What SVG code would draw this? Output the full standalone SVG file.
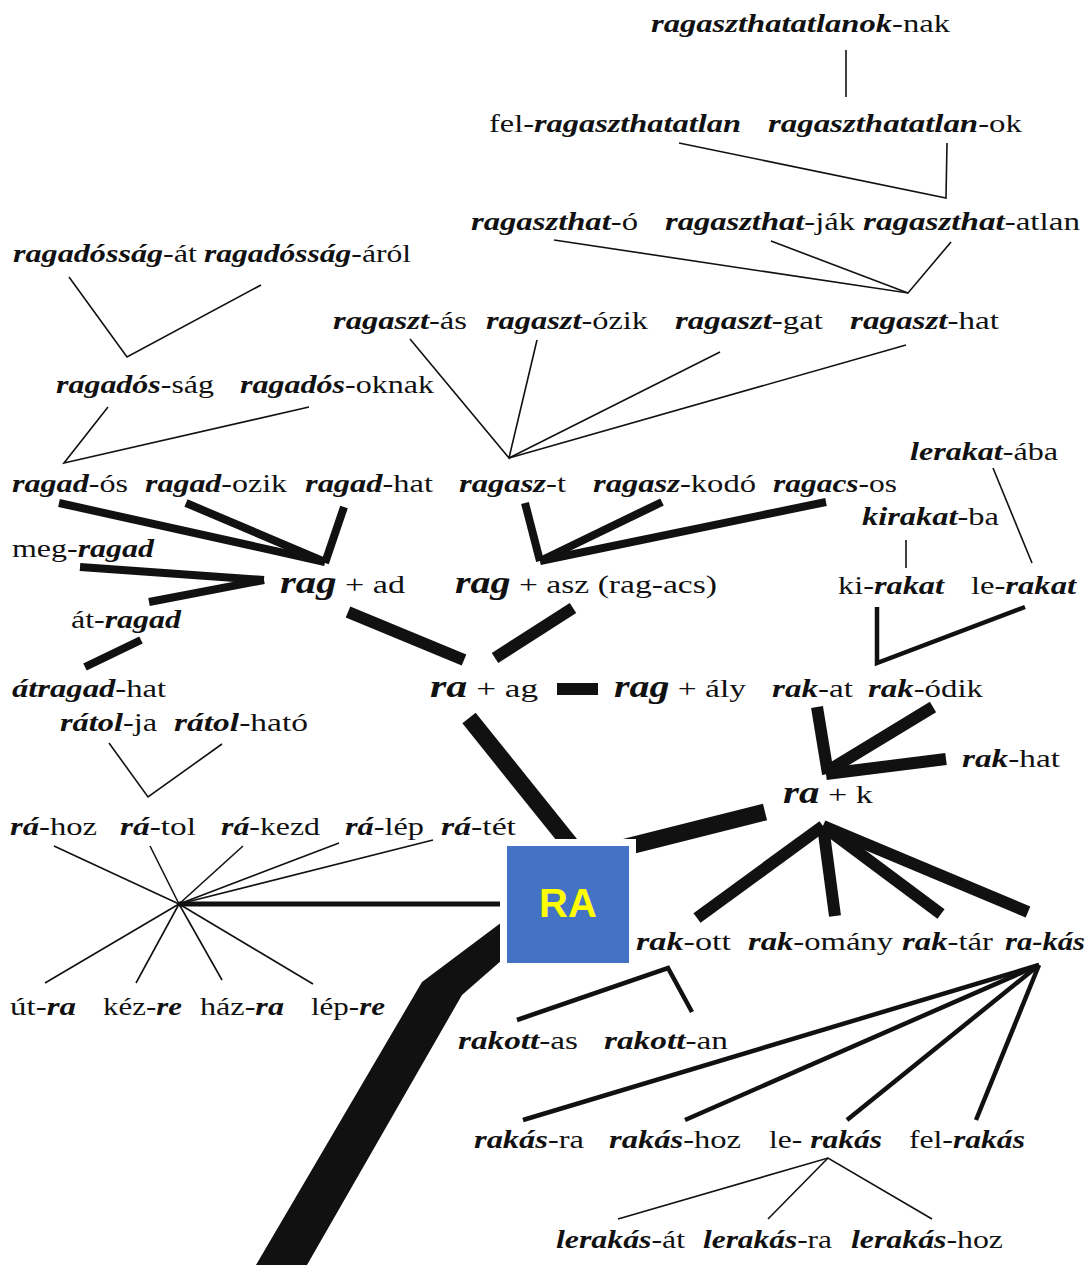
<svg xmlns="http://www.w3.org/2000/svg" width="1087" height="1265" viewBox="0 0 1087 1265">
<style>
text{font-family:"Liberation Serif","DejaVu Serif",serif;font-size:26px;fill:#111}
.b{font-weight:bold;font-style:italic}
.big{font-size:31px}
.thin{stroke:#111;stroke-width:1.6;fill:none}
.med{stroke:#111;stroke-width:4.5;fill:none}
.thk{stroke:#111;stroke-width:8;fill:none}
.xthk{stroke:#111;stroke-width:12;fill:none}
.huge{stroke:#111;stroke-width:17;fill:none}
</style>
<rect width="1087" height="1265" fill="#fff"/>
<g id="connectors">
<line class="thin" x1="846" y1="50" x2="846" y2="97"/>
<polyline class="thin" points="679,143 946,198 947,143"/>
<polyline class="thin" points="554,240 908,293 951,242"/>
<line class="thin" x1="771" y1="241" x2="908" y2="293"/>
<polyline class="thin" points="69,277 127,357 261,285"/>
<polyline class="thin" points="410,339 509,458 537,340"/>
<line class="thin" x1="509" y1="458" x2="720" y2="352"/>
<line class="thin" x1="509" y1="458" x2="906" y2="345"/>
<polyline class="thin" points="108,407 64,463 309,407"/>
<line class="thin" x1="993" y1="468" x2="1032" y2="563"/>
<line class="thin" x1="906" y1="540" x2="906" y2="568"/>
<polyline class="med" points="877,607 877,663 1025,607"/>
<line class="thk" x1="59" y1="503" x2="325" y2="562"/>
<line class="thk" x1="186" y1="503" x2="325" y2="562"/>
<line class="thk" x1="344" y1="507" x2="325" y2="563"/>
<line class="thk" x1="80" y1="567" x2="264" y2="580"/>
<line class="thk" x1="149" y1="602" x2="264" y2="580"/>
<line class="thk" x1="85" y1="667" x2="141" y2="640"/>
<line class="xthk" x1="348" y1="612" x2="464" y2="660"/>
<line class="xthk" x1="495" y1="658" x2="573" y2="608"/>
<line class="thk" x1="525" y1="503" x2="540" y2="561"/>
<line class="thk" x1="662" y1="502" x2="540" y2="561"/>
<line class="thk" x1="826" y1="502" x2="540" y2="561"/>
<rect x="557" y="683" width="41" height="12" fill="#111"/>
<polyline class="thin" points="109,743 148,797 222,744"/>
<line class="thin" x1="54" y1="846" x2="179" y2="904"/>
<line class="thin" x1="150" y1="846" x2="179" y2="904"/>
<line class="thin" x1="243" y1="846" x2="179" y2="904"/>
<line class="thin" x1="339" y1="843" x2="179" y2="904"/>
<line class="thin" x1="433" y1="840" x2="179" y2="904"/>
<line class="thin" x1="45" y1="983" x2="179" y2="904"/>
<line class="thin" x1="136" y1="983" x2="179" y2="904"/>
<line class="thin" x1="222" y1="980" x2="179" y2="904"/>
<line class="thin" x1="313" y1="984" x2="179" y2="904"/>
<line stroke="#111" stroke-width="5" x1="179" y1="904" x2="502" y2="904"/>
<line class="huge" x1="469" y1="718" x2="575" y2="850"/>
<line class="huge" x1="610" y1="851" x2="765" y2="812"/>
<polygon fill="#111" points="256,1265 422,982 502,922 502,960 462,995 307,1265"/>
<line class="xthk" x1="817" y1="707" x2="828" y2="774"/>
<line class="xthk" x1="933" y1="707" x2="826" y2="772"/>
<line class="xthk" x1="946" y1="759" x2="826" y2="774"/>
<line class="xthk" x1="697" y1="918" x2="823" y2="826"/>
<line class="xthk" x1="835" y1="916" x2="823" y2="826"/>
<line class="xthk" x1="941" y1="914" x2="823" y2="826"/>
<line class="xthk" x1="1028" y1="912" x2="823" y2="826"/>
<polyline class="med" points="517,1020 668,968 692,1012"/>
<line class="med" x1="523" y1="1120" x2="1039" y2="965"/>
<line class="med" x1="685" y1="1120" x2="1039" y2="965"/>
<line class="med" x1="847" y1="1120" x2="1039" y2="965"/>
<line class="med" x1="976" y1="1120" x2="1039" y2="965"/>
<polyline class="thin" points="618,1219 828,1158 932,1219"/>
<line class="thin" x1="768" y1="1219" x2="828" y2="1158"/>
</g>
<g id="n1"><text x="651" y="32" textLength="299" lengthAdjust="spacingAndGlyphs"><tspan class="b">ragaszthatatlanok</tspan>-nak</text></g>
<g id="n2"><text x="489" y="132" textLength="252" lengthAdjust="spacingAndGlyphs">fel-<tspan class="b">ragaszthatatlan</tspan></text></g>
<g id="n3"><text x="768" y="132" textLength="254" lengthAdjust="spacingAndGlyphs"><tspan class="b">ragaszthatatlan</tspan>-ok</text></g>
<g id="n4"><text x="471" y="230" textLength="167" lengthAdjust="spacingAndGlyphs"><tspan class="b">ragaszthat</tspan>-ó</text></g>
<g id="n5"><text x="665" y="230" textLength="190" lengthAdjust="spacingAndGlyphs"><tspan class="b">ragaszthat</tspan>-ják</text></g>
<g id="n6"><text x="863" y="230" textLength="217" lengthAdjust="spacingAndGlyphs"><tspan class="b">ragaszthat</tspan>-atlan</text></g>
<g id="n7"><text x="13" y="262" textLength="184" lengthAdjust="spacingAndGlyphs"><tspan class="b">ragadósság</tspan>-át</text></g>
<g id="n8"><text x="204" y="262" textLength="207" lengthAdjust="spacingAndGlyphs"><tspan class="b">ragadósság</tspan>-áról</text></g>
<g id="n9"><text x="333" y="329" textLength="134" lengthAdjust="spacingAndGlyphs"><tspan class="b">ragaszt</tspan>-ás</text></g>
<g id="n10"><text x="486" y="329" textLength="162" lengthAdjust="spacingAndGlyphs"><tspan class="b">ragaszt</tspan>-ózik</text></g>
<g id="n11"><text x="675" y="329" textLength="148" lengthAdjust="spacingAndGlyphs"><tspan class="b">ragaszt</tspan>-gat</text></g>
<g id="n12"><text x="850" y="329" textLength="149" lengthAdjust="spacingAndGlyphs"><tspan class="b">ragaszt</tspan>-hat</text></g>
<g id="n13"><text x="56" y="393" textLength="158" lengthAdjust="spacingAndGlyphs"><tspan class="b">ragadós</tspan>-ság</text></g>
<g id="n14"><text x="240" y="393" textLength="194" lengthAdjust="spacingAndGlyphs"><tspan class="b">ragadós</tspan>-oknak</text></g>
<g id="n15"><text x="910" y="460" textLength="148" lengthAdjust="spacingAndGlyphs"><tspan class="b">lerakat</tspan>-ába</text></g>
<g id="n16"><text x="12" y="492" textLength="116" lengthAdjust="spacingAndGlyphs"><tspan class="b">ragad</tspan>-ós</text></g>
<g id="n17"><text x="145" y="492" textLength="142" lengthAdjust="spacingAndGlyphs"><tspan class="b">ragad</tspan>-ozik</text></g>
<g id="n18"><text x="305" y="492" textLength="128" lengthAdjust="spacingAndGlyphs"><tspan class="b">ragad</tspan>-hat</text></g>
<g id="n19"><text x="459" y="492" textLength="107" lengthAdjust="spacingAndGlyphs"><tspan class="b">ragasz</tspan>-t</text></g>
<g id="n20"><text x="593" y="492" textLength="163" lengthAdjust="spacingAndGlyphs"><tspan class="b">ragasz</tspan>-kodó</text></g>
<g id="n21"><text x="773" y="492" textLength="124" lengthAdjust="spacingAndGlyphs"><tspan class="b">ragacs</tspan>-os</text></g>
<g id="n22"><text x="862" y="525" textLength="137" lengthAdjust="spacingAndGlyphs"><tspan class="b">kirakat</tspan>-ba</text></g>
<g id="n23"><text x="12" y="557" textLength="142" lengthAdjust="spacingAndGlyphs">meg-<tspan class="b">ragad</tspan></text></g>
<g id="n24"><text x="280" y="593" textLength="125" lengthAdjust="spacingAndGlyphs"><tspan class="b big">rag</tspan> + ad</text></g>
<g id="n25"><text x="455" y="593" textLength="262" lengthAdjust="spacingAndGlyphs"><tspan class="b big">rag</tspan> + asz (rag-acs)</text></g>
<g id="n26"><text x="838" y="594" textLength="106" lengthAdjust="spacingAndGlyphs">ki-<tspan class="b">rakat</tspan></text></g>
<g id="n27"><text x="971" y="594" textLength="105" lengthAdjust="spacingAndGlyphs">le-<tspan class="b">rakat</tspan></text></g>
<g id="n28"><text x="71" y="628" textLength="110" lengthAdjust="spacingAndGlyphs">át-<tspan class="b">ragad</tspan></text></g>
<g id="n29"><text x="12" y="697" textLength="154" lengthAdjust="spacingAndGlyphs"><tspan class="b">átragad</tspan>-hat</text></g>
<g id="n30"><text x="430" y="697" textLength="108" lengthAdjust="spacingAndGlyphs"><tspan class="b big">ra</tspan> + ag</text></g>
<g id="n31"><text x="614" y="697" textLength="132" lengthAdjust="spacingAndGlyphs"><tspan class="b big">rag</tspan> + ály</text></g>
<g id="n32"><text x="772" y="697" textLength="81" lengthAdjust="spacingAndGlyphs"><tspan class="b">rak</tspan>-at</text></g>
<g id="n33"><text x="868" y="697" textLength="115" lengthAdjust="spacingAndGlyphs"><tspan class="b">rak</tspan>-ódik</text></g>
<g id="n34"><text x="60" y="731" textLength="97" lengthAdjust="spacingAndGlyphs"><tspan class="b">rátol</tspan>-ja</text></g>
<g id="n35"><text x="174" y="731" textLength="134" lengthAdjust="spacingAndGlyphs"><tspan class="b">rátol</tspan>-ható</text></g>
<g id="n36"><text x="962" y="767" textLength="98" lengthAdjust="spacingAndGlyphs"><tspan class="b">rak</tspan>-hat</text></g>
<g id="n37"><text x="783" y="803" textLength="90" lengthAdjust="spacingAndGlyphs"><tspan class="b big">ra</tspan> + k</text></g>
<g id="n38"><text x="10" y="835" textLength="87" lengthAdjust="spacingAndGlyphs"><tspan class="b">rá</tspan>-hoz</text></g>
<g id="n39"><text x="120" y="835" textLength="76" lengthAdjust="spacingAndGlyphs"><tspan class="b">rá</tspan>-tol</text></g>
<g id="n40"><text x="221" y="835" textLength="99" lengthAdjust="spacingAndGlyphs"><tspan class="b">rá</tspan>-kezd</text></g>
<g id="n41"><text x="345" y="835" textLength="79" lengthAdjust="spacingAndGlyphs"><tspan class="b">rá</tspan>-lép</text></g>
<g id="n42"><text x="441" y="835" textLength="75" lengthAdjust="spacingAndGlyphs"><tspan class="b">rá</tspan>-tét</text></g>
<g id="RA">
<rect x="500" y="839" width="136" height="130" fill="#fff"/>
<rect x="507" y="846" width="122" height="117" fill="#4472C4"/>
<text x="568" y="917" text-anchor="middle" style="font-family:'Liberation Sans',Arial,sans-serif;font-weight:bold;font-size:40px;fill:#FFFF00">RA</text>
</g>
<g id="n43"><text x="636" y="950" textLength="95" lengthAdjust="spacingAndGlyphs"><tspan class="b">rak</tspan>-ott</text></g>
<g id="n44"><text x="748" y="950" textLength="145" lengthAdjust="spacingAndGlyphs"><tspan class="b">rak</tspan>-omány</text></g>
<g id="n45"><text x="902" y="950" textLength="91" lengthAdjust="spacingAndGlyphs"><tspan class="b">rak</tspan>-tár</text></g>
<g id="n46"><text x="1005" y="950" textLength="80" lengthAdjust="spacingAndGlyphs"><tspan class="b">ra-kás</tspan></text></g>
<g id="n47"><text x="10" y="1015" textLength="66" lengthAdjust="spacingAndGlyphs">út-<tspan class="b">ra</tspan></text></g>
<g id="n48"><text x="103" y="1015" textLength="79" lengthAdjust="spacingAndGlyphs">kéz-<tspan class="b">re</tspan></text></g>
<g id="n49"><text x="200" y="1015" textLength="84" lengthAdjust="spacingAndGlyphs">ház-<tspan class="b">ra</tspan></text></g>
<g id="n50"><text x="311" y="1015" textLength="74" lengthAdjust="spacingAndGlyphs">lép-<tspan class="b">re</tspan></text></g>
<g id="n51"><text x="458" y="1049" textLength="120" lengthAdjust="spacingAndGlyphs"><tspan class="b">rakott</tspan>-as</text></g>
<g id="n52"><text x="604" y="1049" textLength="124" lengthAdjust="spacingAndGlyphs"><tspan class="b">rakott</tspan>-an</text></g>
<g id="n53"><text x="474" y="1148" textLength="110" lengthAdjust="spacingAndGlyphs"><tspan class="b">rakás</tspan>-ra</text></g>
<g id="n54"><text x="609" y="1148" textLength="132" lengthAdjust="spacingAndGlyphs"><tspan class="b">rakás</tspan>-hoz</text></g>
<g id="n55"><text x="769" y="1148" textLength="113" lengthAdjust="spacingAndGlyphs">le- <tspan class="b">rakás</tspan></text></g>
<g id="n56"><text x="909" y="1148" textLength="116" lengthAdjust="spacingAndGlyphs">fel-<tspan class="b">rakás</tspan></text></g>
<g id="n57"><text x="556" y="1248" textLength="129" lengthAdjust="spacingAndGlyphs"><tspan class="b">lerakás</tspan>-át</text></g>
<g id="n58"><text x="703" y="1248" textLength="129" lengthAdjust="spacingAndGlyphs"><tspan class="b">lerakás</tspan>-ra</text></g>
<g id="n59"><text x="851" y="1248" textLength="152" lengthAdjust="spacingAndGlyphs"><tspan class="b">lerakás</tspan>-hoz</text></g>
</svg>
